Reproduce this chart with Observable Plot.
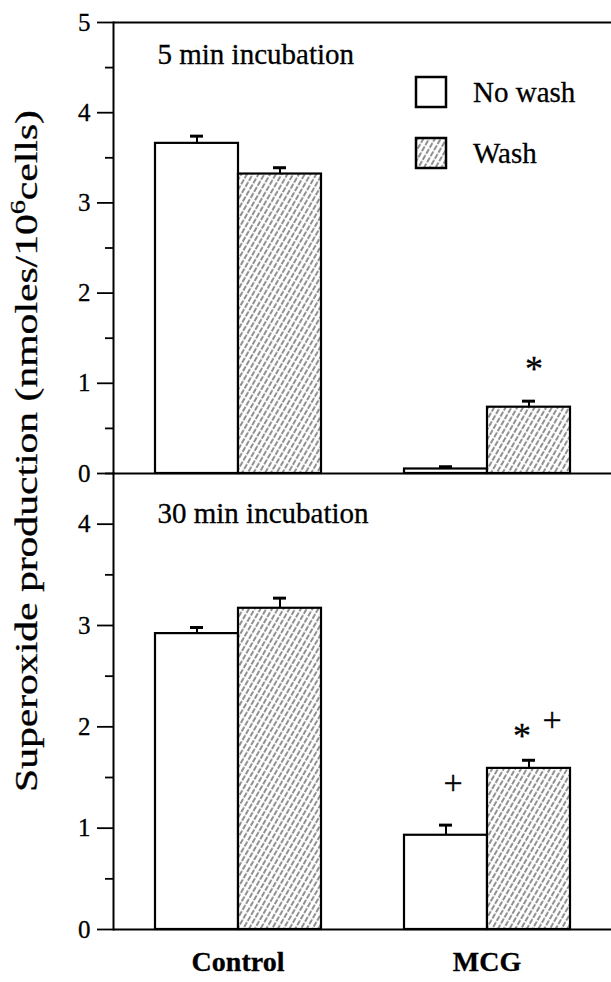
<!DOCTYPE html>
<html><head><meta charset="utf-8">
<script src="https://cdn.jsdelivr.net/npm/d3@7"></script>
<script src="https://cdn.jsdelivr.net/npm/@observablehq/plot@0.6"></script>
<style>
html,body{margin:0;padding:0;background:#fff;}
#fig{position:relative;width:611px;height:982px;overflow:hidden;font-family:"Liberation Serif","Times New Roman",serif;background:#fff;}
#fig > svg{position:absolute;left:0;}
#fig text{stroke:black;stroke-width:0.3px;}
svg [aria-label="fx-axis tick label"]{font-weight:bold;font-size:28px;}
svg [aria-label="y-axis tick label"]{font-size:25px;}
</style></head><body>
<svg width="0" height="0" style="position:absolute">
<defs>
<pattern id="hatch" patternUnits="userSpaceOnUse" width="5" height="7" patternTransform="rotate(30)">
<rect width="5" height="7" fill="#fff"/>
<line x1="1" y1="0" x2="1" y2="7" stroke="#222" stroke-width="1" stroke-dasharray="4 1.5"/>
</pattern>
</defs></svg>
<div id="fig"></div>
<script>
// ---- data ----
const groups = ["Control", "MCG"];
const conditions = ["No wash", "Wash"];
// order: Control/No wash, Control/Wash, MCG/No wash, MCG/Wash
const values5min = [3.66, 3.32, 0.05, 0.735];
const errors5min = [0.08, 0.07, 0.025, 0.067];
const values30min = [2.92, 3.17, 0.93, 1.59];
const errors30min = [0.06, 0.10, 0.10, 0.08];
const yTicks5min = [0, 1, 2, 3, 4, 5];
const yMinor5min = [0.5, 1.5, 2.5, 3.5, 4.5];
const yTicks30min = [0, 1, 2, 3, 4];
const yMinor30min = [0.5, 1.5, 2.5, 3.5, 4.5];
const panelTitles = ["5 min incubation", "30 min incubation"];
const notes5min = [{group: "MCG", condition: "Wash", symbol: "*", y: 1.24}];
const notes30min = [
  {group: "MCG", condition: "No wash", symbol: "+", y: 1.45},
  {group: "MCG", condition: "Wash", symbol: "*", y: 1.98},
  {group: "MCG", condition: "Wash", symbol: "+", y: 2.08}
];
const yLabel = "Superoxide production (nmoles/10";
const yLabelSup = "6";
const yLabelEnd = "cells)";

function rowsOf(vals, errs) {
  return groups.flatMap((g, i) => conditions.map((c, j) => ({group: g, condition: c, value: vals[i * 2 + j], err: errs[i * 2 + j]})));
}

function panel({rows, yDomain, major, minor, height, marginTop, marginBottom, title, titleDy, notes, topRule, fxAxis}) {
  const marks = [
    Plot.barY(rows, {filter: d => d.condition === "No wash", fx: "group", x: "condition", y: "value", fill: "white", stroke: "black", strokeWidth: 2.2}),
    Plot.barY(rows, {filter: d => d.condition === "Wash", fx: "group", x: "condition", y: "value", fill: "url(#hatch)", stroke: "black", strokeWidth: 2.2}),
    Plot.ruleX(rows, {fx: "group", x: "condition", y1: "value", y2: d => d.value + d.err, stroke: "black", strokeWidth: 2}),
    Plot.tickY(rows, {fx: "group", x: "condition", y: d => d.value + d.err, stroke: "black", strokeWidth: 3, insetLeft: 35, insetRight: 35}),
    Plot.ruleY([0], {stroke: "black", strokeWidth: 2}),
    Plot.frame({anchor: "left", facetAnchor: "left", stroke: "black", strokeWidth: 2}),
    Plot.axisY({ticks: major, tickSize: 16, tickPadding: 7, fontSize: 25, label: null, tickFormat: d => String(d), strokeWidth: 1.8}),
    Plot.axisY({ticks: minor, tickSize: 8, tickFormat: () => "", label: null, strokeWidth: 1.8}),
    Plot.text([{group: "Control", label: title}], {fx: "group", text: "label", frameAnchor: "top-left", textAnchor: "start", lineAnchor: "top", dx: 44, dy: titleDy, fontSize: 29}),
    Plot.text(notes.filter(d => d.symbol === "*" && d.y < 1.5), {fx: "group", x: "condition", y: "y", text: "symbol", fontSize: 36, dx: 5, dy: 8}),
    Plot.text(notes.filter(d => d.symbol === "*" && d.y >= 1.5), {fx: "group", x: "condition", y: "y", text: "symbol", fontSize: 36, dx: -7, dy: 8}),
    Plot.text(notes.filter(d => d.symbol === "+" && d.condition === "No wash"), {fx: "group", x: "condition", y: "y", text: "symbol", fontSize: 34, dx: 7, dy: 1}),
    Plot.text(notes.filter(d => d.symbol === "+" && d.condition === "Wash"), {fx: "group", x: "condition", y: "y", text: "symbol", fontSize: 34, dx: 23, dy: 1})
  ];
  if (topRule) marks.push(Plot.ruleY([yDomain[1]], {stroke: "black", strokeWidth: 2}));
  if (fxAxis) marks.push(Plot.axisFx({anchor: "bottom", tickSize: 0, tickPadding: 22, fontSize: 28, fontWeight: "bold", label: null}));
  return Plot.plot({
    width: 611, height, marginLeft: 113, marginRight: 0, marginTop, marginBottom,
    style: {fontFamily: "'Liberation Serif', 'Times New Roman', serif", background: "transparent", overflow: "visible", color: "black"},
    fx: {domain: groups, padding: 0, axis: fxAxis ? undefined : null, label: null},
    x: {domain: conditions, paddingInner: 0, paddingOuter: 0.49, axis: null},
    y: {domain: yDomain},
    marks
  });
}

const fig = document.getElementById("fig");
const topPanel = panel({rows: rowsOf(values5min, errors5min), yDomain: [0, 5], major: yTicks5min, minor: yMinor5min,
  height: 488, marginTop: 22, marginBottom: 15, title: panelTitles[0], titleDy: 21, notes: notes5min, topRule: true, fxAxis: false});
topPanel.style.top = "0px";
fig.appendChild(topPanel);
const bottomPanel = panel({rows: rowsOf(values30min, errors30min), yDomain: [0, 4.5], major: yTicks30min, minor: yMinor30min,
  height: 524, marginTop: 15, marginBottom: 53, title: panelTitles[1], titleDy: 29, notes: notes30min, topRule: false, fxAxis: true});
bottomPanel.style.top = "458px";
fig.appendChild(bottomPanel);

// overlay: y label and legend
const ov = d3.select(fig).append("svg").attr("width", 611).attr("height", 982).style("top", "0px").style("pointer-events", "none")
  .attr("font-family", "'Liberation Serif', 'Times New Roman', serif");
const yl = ov.append("text").attr("transform", "translate(37,792) rotate(-90)").attr("font-size", 31)
  .attr("textLength", 682).attr("lengthAdjust", "spacingAndGlyphs");
yl.append("tspan").text(yLabel);
yl.append("tspan").attr("dy", -12).attr("font-size", 21).text(yLabelSup);
yl.append("tspan").attr("dy", 12).text(yLabelEnd);

const legendFills = ["white", "url(#hatch)"];
conditions.forEach((c, i) => {
  const y0 = 77 + i * 61;
  ov.append("rect").attr("x", 416).attr("y", y0).attr("width", 30).attr("height", 30)
    .attr("fill", legendFills[i]).attr("stroke", "black").attr("stroke-width", 2.5);
  ov.append("text").attr("x", 473).attr("y", y0 + 25).attr("font-size", 29).text(c);
});
</script>
</body></html>
